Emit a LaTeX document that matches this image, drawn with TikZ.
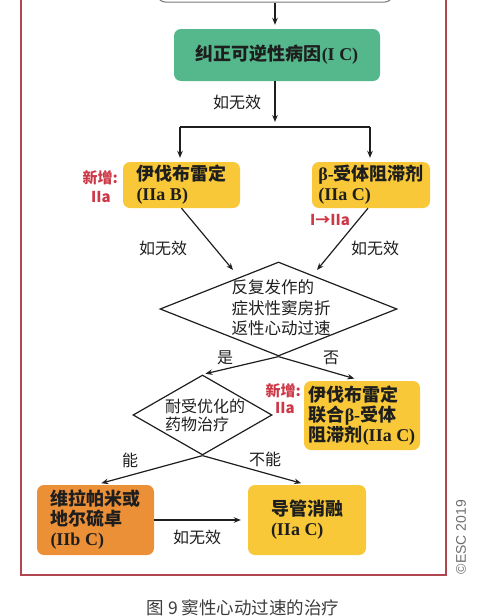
\documentclass[tikz,border=0pt]{standalone}
\usepackage{fontspec}
\setmainfont{Liberation Serif}
\setsansfont{Liberation Sans}
\newfontfamily\zh{Noto Sans CJK SC}
\usetikzlibrary{shapes.geometric,arrows.meta}
\definecolor{boxgreen}{RGB}{84,184,140}
\definecolor{boxyellow}{RGB}{248,200,56}
\definecolor{boxorange}{RGB}{236,144,56}
\definecolor{newred}{RGB}{205,55,70}
\definecolor{framered}{RGB}{175,70,80}
\definecolor{txt}{RGB}{30,30,30}
\definecolor{topgray}{RGB}{120,120,120}
\begin{document}
\begin{tikzpicture}[x=1pt,y=-1pt,
  arr/.style={draw=txt, line width=1.2pt, -{Stealth[length=7pt,width=5.5pt]}},
  plainline/.style={draw=txt, line width=1.2pt},
  box/.style={rounded corners=7pt, inner sep=0pt, align=left, text=txt,
              font=\bfseries\fontsize{18}{20}\selectfont},
  dshape/.style={diamond, draw=txt, line width=1.2pt, inner sep=0pt},
  dtext/.style={align=left, text=txt, inner sep=0pt},
  lbl/.style={text=txt, inner sep=0pt, font=\zh\fontsize{16}{18}\selectfont},
  newlbl/.style={text=newred, inner sep=0pt, font=\zh\bfseries\fontsize{15}{17}\selectfont}]
\useasboundingbox (0,0) rectangle (500,616);
\fill[white] (0,0) rectangle (500,616);

% frame
\draw[framered, line width=1.2pt] (21,-10) rectangle (446,575);

% top (cut-off) box
\node[draw=topgray, line width=1pt, rounded corners=7pt, fill=white,
      minimum width=234pt, minimum height=44pt] (top) at (275,-20) {};

% green box
\node[box, fill=boxgreen, minimum width=206pt, minimum height=52pt] (green) at (277,55)
  {{\zh 纠正可逆性病因}(I C)};

% bar coordinates
\coordinate (bm) at (275,127);
\coordinate (bl) at (180,127);
\coordinate (br) at (370,127);

% second row
\node[box, fill=boxyellow, minimum width=117pt, minimum height=46pt] (ly) at (181.5,185)
  {{\zh 伊伐布雷定}\\(IIa B)};
\node[box, fill=boxyellow, minimum width=118pt, minimum height=46pt] (ry) at (371,185)
  {β-{\zh 受体阻滞剂}\\(IIa C)};

\node[newlbl, anchor=east] (new1) at (118,178) {新增:};
\node[newlbl, anchor=east] (new1b) at (111,197) {IIa};
\node[newlbl, anchor=west] (chg) at (310,220) {I→IIa};

% diamond 1
\node[dshape, minimum width=237pt, minimum height=94pt] (d1) at (278.5,309) {};
\node[dtext, font=\zh\fontsize{16.5}{20.5}\selectfont] (d1t) at (281,308)
  {反复发作的\\症状性窦房折\\返性心动过速};
\coordinate (d1l) at (233,270);
\coordinate (d1r) at (317,270);

% diamond 2
\node[dshape, minimum width=139pt, minimum height=80pt] (d2) at (202.5,415) {};
\node[dtext, font=\zh\fontsize{16}{18}\selectfont] (d2t) at (205,415)
  {耐受优化的\\药物治疗};

% box 3
\node[box, fill=boxyellow, minimum width=116pt, minimum height=69pt] (b3) at (362,415.5)
  {{\zh 伊伐布雷定}\\{\zh 联合}β-{\zh 受体}\\{\zh 阻滞剂}(IIa C)};
\node[newlbl, anchor=east] (new3) at (301,391) {新增:};
\node[newlbl, anchor=east] (new3b) at (295,408) {IIa};

% bottom boxes
\node[box, fill=boxorange, minimum width=117pt, minimum height=70pt] (ob) at (95.5,520)
  {{\zh 维拉帕米或}\\{\zh 地尔硫卓}\\(IIb C)};
\node[box, fill=boxyellow, minimum width=118pt, minimum height=70pt] (yb) at (307,520)
  {{\zh 导管消融}\\(IIa C)};

% connectors
\draw[arr, shorten >=4pt] (top.south) -- (top.south |- green.north);
\draw[arr, shorten >=5pt] (green.south -| bm) -- (bm);
\draw[plainline] (bl) -- (br);
\draw[arr, shorten >=4pt] (bl) -- (ly.north -| bl);
\draw[arr, shorten >=4pt] (br) -- (ry.north -| br);
\draw[arr] (ly.south) -- (d1l);
\draw[arr] ([xshift=-3pt]ry.south) -- (d1r);
\draw[arr, shorten >=3pt] (d1.south) -- (d2.north);
\draw[arr, shorten >=8pt] (d1.south) -- (b3.north);
\draw[arr, shorten >=6pt] (d2.south) -- (ob.north);
\draw[arr, shorten >=6pt] (d2.south) -- (yb.north);
\draw[arr, shorten >=7pt] (ob.east) -- (yb.west);

% labels
\node[lbl] (l1) at (237,102) {如无效};
\node[lbl] (l2) at (163,248) {如无效};
\node[lbl] (l3) at (375,248) {如无效};
\node[lbl] (lyes) at (225,358) {是};
\node[lbl] (lno) at (331,358) {否};
\node[lbl] (lcan) at (130,460) {能};
\node[lbl] (lcannot) at (265,459) {不能};
\node[lbl] (l4) at (197,537) {如无效};

% copyright and caption
\node[rotate=90, text={rgb,255:red,110;green,110;blue,110}, inner sep=0pt,
      font=\sffamily\fontsize{14}{16}\selectfont] (esc) at (461,537) {©ESC 2019};
\node[text={rgb,255:red,60;green,60;blue,60}, inner sep=0pt,
      font=\zh\fontsize{17.5}{20}\selectfont] (cap) at (243,608) {图 9 窦性心动过速的治疗};
\end{tikzpicture}
\end{document}
